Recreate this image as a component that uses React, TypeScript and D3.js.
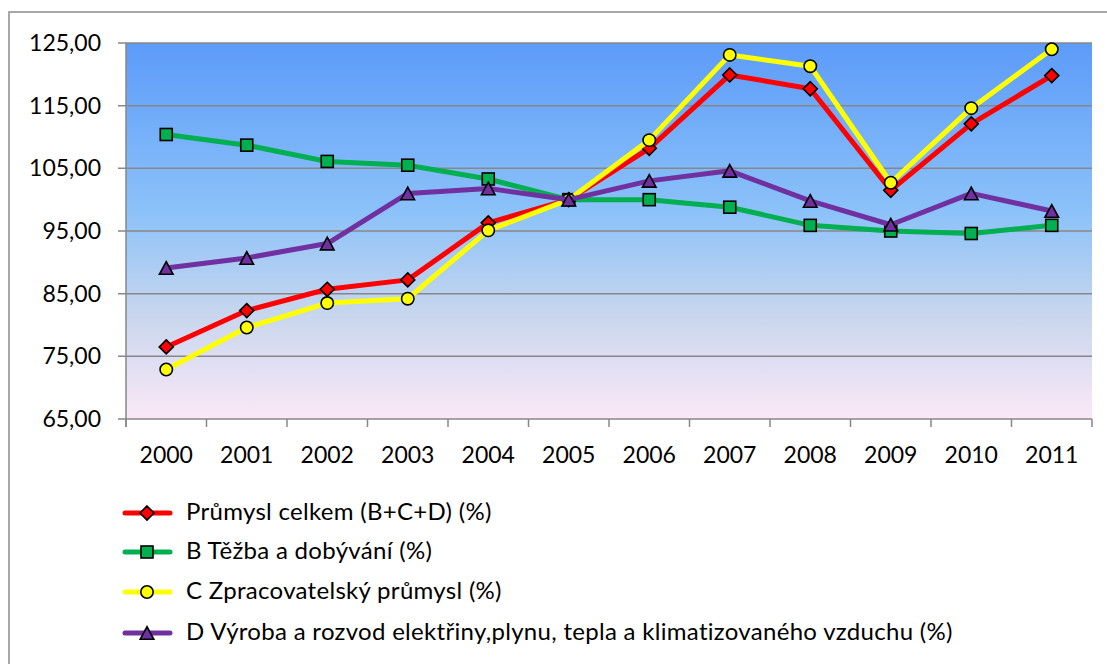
import React from "react";
import * as d3 from "d3";

const years = ["2000","2001","2002","2003","2004","2005","2006","2007","2008","2009","2010","2011"];
const prumysl = [76.5, 82.3, 85.7, 87.2, 96.3, 100.0, 108.2, 119.9, 117.7, 101.5, 112.1, 119.8];
const tezba = [110.4, 108.7, 106.1, 105.5, 103.3, 100.0, 100.0, 98.8, 95.9, 95.0, 94.6, 95.9];
const zpracovatelsky = [72.9, 79.6, 83.5, 84.2, 95.1, 100.0, 109.5, 123.1, 121.3, 102.7, 114.6, 124.0];
const vyroba = [89.1, 90.7, 93.0, 101.0, 101.8, 100.0, 103.0, 104.6, 99.8, 96.0, 101.0, 98.2];
const yTicks = [65, 75, 85, 95, 105, 115, 125];

const seriesNames = [
  "Průmysl celkem (B+C+D) (%)",
  "B Těžba a dobývání (%)",
  "C Zpracovatelský průmysl (%)",
  "D Výroba a rozvod elektřiny,plynu, tepla a klimatizovaného vzduchu (%)",
];

const series = [
  { name: seriesNames[0], values: prumysl, color: "#ff0000", marker: "diamond" },
  { name: seriesNames[1], values: tezba, color: "#00b050", marker: "square" },
  { name: seriesNames[2], values: zpracovatelsky, color: "#ffff00", marker: "circle" },
  { name: seriesNames[3], values: vyroba, color: "#7030a0", marker: "triangle" },
];

const FONT = "Lato, 'Open Sans', sans-serif";

function Marker({ type, x, y, fill }: { type: string; x: number; y: number; fill: string }) {
  const sw = 1.6;
  if (type === "diamond") {
    const r = 7;
    return <path d={`M${x},${y - r}L${x + r},${y}L${x},${y + r}L${x - r},${y}Z`} fill={fill} stroke="#000" strokeWidth={sw} />;
  }
  if (type === "square") {
    const h = 6;
    return <rect x={x - h} y={y - h} width={2 * h} height={2 * h} fill={fill} stroke="#000" strokeWidth={sw} />;
  }
  if (type === "circle") {
    return <circle cx={x} cy={y} r={6.2} fill={fill} stroke="#000" strokeWidth={sw} />;
  }
  const w = 6.8, hh = 6.3;
  return <path d={`M${x},${y - hh}L${x + w},${y + hh}L${x - w},${y + hh}Z`} fill={fill} stroke="#000" strokeWidth={sw} />;
}

export default function App() {
  const W = 1107, H = 664;
  const left = 126, right = 1092, top = 43, bottom = 419;
  const x = d3.scaleBand<string>().domain(years).range([left, right]);
  const y = d3.scaleLinear().domain([65, 125]).range([bottom, top]);
  const line = d3.line<number>()
    .x((_, i) => (x(years[i]) as number) + x.bandwidth() / 2)
    .y((d) => y(d));
  const tickXs = years.map((yr) => x(yr) as number).concat([right]);
  const legendY = [513, 552, 592, 633];

  return (
    <svg width={W} height={H} style={{ position: "absolute", left: 0, top: 0 }}>
      <defs>
        <linearGradient id="bg" x1="0" y1="0" x2="0" y2="1">
          <stop offset="0" stopColor="#5c9bf9" />
          <stop offset="0.45" stopColor="#8cc2f9" />
          <stop offset="0.72" stopColor="#c7d6ee" />
          <stop offset="1" stopColor="#fbe8f7" />
        </linearGradient>
      </defs>
      <rect x={0} y={0} width={W} height={H} fill="#fff" />
      <rect x={9} y={12} width={1120} height={700} fill="#fff" stroke="#8a8a8a" strokeWidth={1.5} />
      <rect x={left} y={top} width={right - left} height={bottom - top} fill="url(#bg)" />
      {yTicks.map((t) => (
        <g key={t}>
          <line x1={118} x2={right} y1={y(t)} y2={y(t)} stroke="#878787" strokeWidth={1.5} />
          <text x={101} y={y(t) + 8} textAnchor="end" fontFamily={FONT} fontSize={23} fill="#000">
            {d3.format(".2f")(t).replace(".", ",")}
          </text>
        </g>
      ))}
      <line x1={left} x2={left} y1={top} y2={bottom + 8} stroke="#878787" strokeWidth={1.5} />
      {tickXs.map((tx, i) => (
        <line key={i} x1={tx} x2={tx} y1={bottom} y2={bottom + 8} stroke="#878787" strokeWidth={1.5} />
      ))}
      {years.map((yr) => (
        <text key={yr} x={(x(yr) as number) + x.bandwidth() / 2} y={463} textAnchor="middle" fontFamily={FONT} fontSize={23} fill="#000">
          {yr}
        </text>
      ))}
      {series.map((s) => (
        <g key={s.name}>
          <path d={line(s.values) as string} fill="none" stroke={s.color} strokeWidth={5} strokeLinejoin="round" />
          {s.values.map((v, i) => (
            <Marker key={i} type={s.marker} x={(x(years[i]) as number) + x.bandwidth() / 2} y={y(v)} fill={s.color} />
          ))}
        </g>
      ))}
      {series.map((s, i) => (
        <g key={"lg" + i}>
          <line x1={125} x2={170} y1={legendY[i]} y2={legendY[i]} stroke={s.color} strokeWidth={5} strokeLinecap="round" />
          <Marker type={s.marker} x={147} y={legendY[i]} fill={s.color} />
          <text x={186} y={legendY[i] + 7} fontFamily={FONT} fontSize={24} letterSpacing={0.3} fill="#000">{s.name}</text>
        </g>
      ))}
    </svg>
  );
}
